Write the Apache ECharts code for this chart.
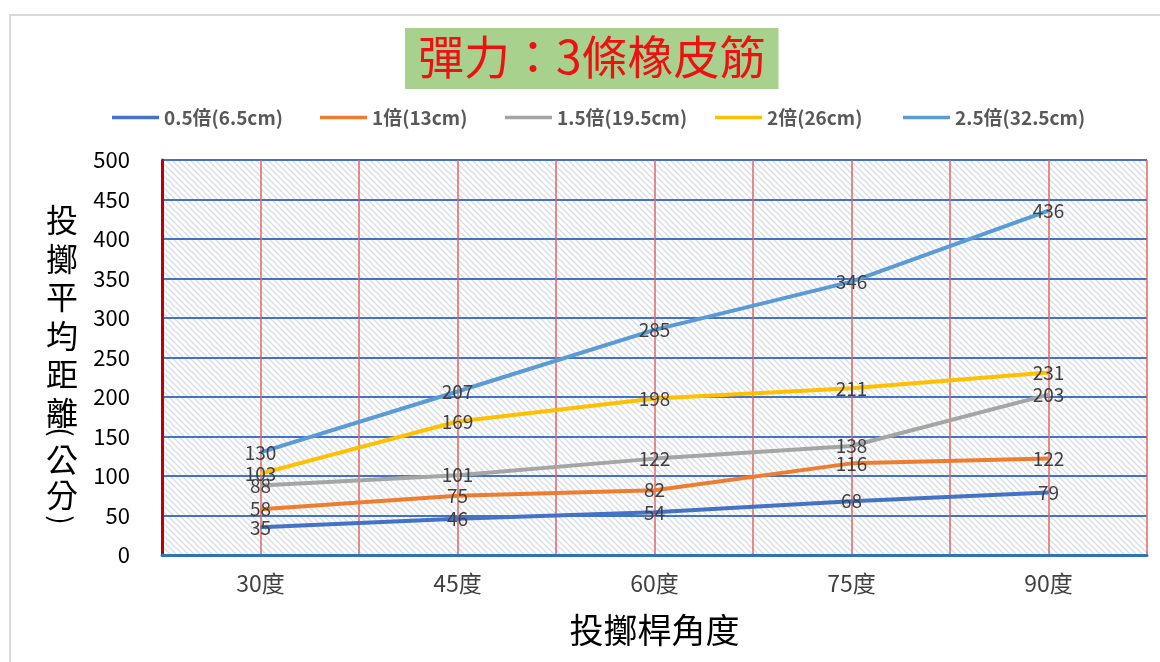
<!DOCTYPE html>
<html><head><meta charset="utf-8">
<script src="https://cdn.jsdelivr.net/npm/echarts@6/dist/echarts.min.js"></script>
<style>html,body{margin:0;padding:0;background:#fff}#c{width:1160px;height:662px}</style>
</head><body><div id="c"></div>
<script>
const categories = ['30度','45度','60度','75度','90度'];
const seriesNames = ['0.5倍(6.5cm)','1倍(13cm)','1.5倍(19.5cm)','2倍(26cm)','2.5倍(32.5cm)'];
const s05 = [35,46,54,68,79];
const s1 = [58,75,82,116,122];
const s15 = [88,101,122,138,203];
const s2 = [103,169,198,211,231];
const s25 = [130,207,285,346,436];
const yTicks = [0,500,50];
const yNameMain = '投\n擲\n平\n均\n距\n離';
const yNameUnit = ['(','公','分',')'];

const colors = ['#4472c4','#ed7d31','#a5a5a5','#ffc000','#5b9bd5'];
const legendLeft = [112,320,505,715,903];
const unitY = [432,460,495,520];
const unitRot = [-Math.PI/2,0,0,-Math.PI/2];
const unitSize = [28,32,32,28];
const FONT = '"Noto Sans CJK TC","Noto Sans",sans-serif';

// hatch pattern
const pc = document.createElement('canvas');
pc.width = 6; pc.height = 6;
const g = pc.getContext('2d');
g.fillStyle = '#ffffff'; g.fillRect(0,0,6,6);
g.strokeStyle = '#d8dce3'; g.lineWidth = 1.3;
g.beginPath(); g.moveTo(-1,-1); g.lineTo(7,7); g.moveTo(-4,2); g.lineTo(4,10); g.moveTo(2,-4); g.lineTo(10,4); g.stroke();

const values = [s05,s1,s15,s2,s25];
const chart = echarts.init(document.getElementById('c'));
chart.setOption({
  animation:false,
  backgroundColor:'#fff',
  title:{text:'彈力：3條橡皮筋',left:405,top:28,backgroundColor:'#a9d18e',padding:[6,13,9,13],
    textStyle:{color:'#ee1111',fontSize:46,fontWeight:'normal',fontFamily:FONT}},
  legend: seriesNames.map((n,i)=>({data:[n],left:legendLeft[i],top:108,padding:0,icon:'rect',itemWidth:47,itemHeight:3.5,itemGap:4,
    textStyle:{color:'#595959',fontSize:19,fontWeight:'bold',fontFamily:FONT}})),
  graphic:[
    {type:'rect',shape:{x:10,y:15,width:1170,height:680},style:{fill:null,stroke:'#d9d9d9',lineWidth:2},silent:true},
    {type:'text',x:62,y:201,style:{text:yNameMain,fill:'#000',font:'32px "Noto Sans CJK TC",sans-serif',lineHeight:38.5,align:'center',verticalAlign:'top'},silent:true}
  ].concat(yNameUnit.map((t,i)=>({type:'group',x:62,y:unitY[i],rotation:unitRot[i],silent:true,
    children:[{type:'text',x:0,y:0,
      style:{text:t,x:0,y:0,fill:'#000',font:unitSize[i]+'px "Noto Sans CJK TC",sans-serif',align:'center',verticalAlign:'middle'},silent:true}]}))),
  grid:{left:162,right:13,top:160,bottom:107,show:true,borderWidth:0,backgroundColor:{image:pc,repeat:'repeat'}},
  xAxis:[
    {type:'category',data:categories,boundaryGap:true,
     axisLine:{lineStyle:{color:'#2e75b6',width:3}},axisTick:{show:false},
     axisLabel:{color:'#404040',fontSize:23,fontFamily:FONT,margin:17},
     splitLine:{show:false},
     name:'投擲桿角度',nameLocation:'middle',nameGap:58,
     nameTextStyle:{color:'#000',fontSize:34,fontFamily:FONT}},
    {type:'category',data:['','','','','','','','','',''],boundaryGap:true,position:'bottom',
     axisLine:{show:false},axisTick:{show:false},axisLabel:{show:false},
     splitLine:{show:true,lineStyle:{color:'#e06666',width:1.5}}}
  ],
  yAxis:{type:'value',min:yTicks[0],max:yTicks[1],interval:yTicks[2],
    axisLine:{show:true,lineStyle:{color:'#c00000',width:3}},axisTick:{show:false},
    axisLabel:{color:'#000',fontSize:22,fontFamily:FONT,margin:32},
    splitLine:{lineStyle:{color:'#4472c4',width:1.8}}},
  series: seriesNames.map((n,i)=>({name:n,type:'line',data:values[i],xAxisIndex:0,
    symbol:'circle',symbolSize:1,showSymbol:true,
    lineStyle:{color:colors[i],width:4},itemStyle:{color:colors[i]},
    label:{show:true,position:'inside',color:'#404040',fontSize:19,fontFamily:FONT}}))
});
</script></body></html>
